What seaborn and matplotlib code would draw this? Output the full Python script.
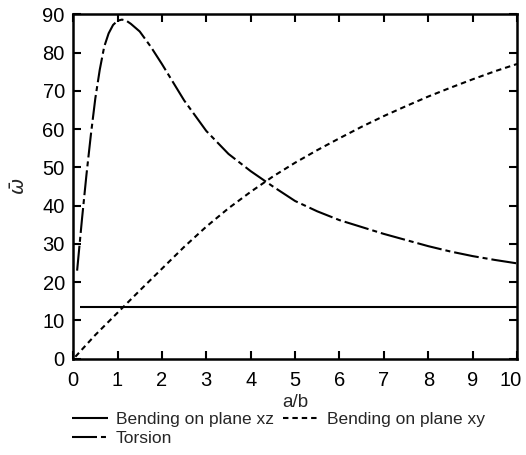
import matplotlib
matplotlib.use("Agg")
import matplotlib.pyplot as plt
import matplotlib.transforms as mtransforms
import seaborn as sns
import pandas as pd

# ---- data ----
xz_x = [0.15, 10.0]
xz_y = [13.6, 13.6]

xy_x = [0.05, 0.5, 1.0, 1.5, 2.0, 2.5, 3.0, 3.5, 4.0, 4.5, 5.0, 5.5, 6.0, 6.5, 7.0, 7.5, 8.0, 8.5, 9.0, 9.5, 10.0]
xy_y = [0.5, 6.2, 12.0, 17.8, 23.5, 29.2, 34.5, 39.3, 43.6, 47.6, 51.2, 54.5, 57.6, 60.6, 63.4, 66.0, 68.5, 70.8, 73.0, 75.1, 77.0]

tor_x = [0.09, 0.2, 0.3, 0.4, 0.5, 0.6, 0.7, 0.8, 0.9, 1.0, 1.1, 1.2, 1.3, 1.5, 1.75, 2.0, 2.5, 3.0,
         3.5, 4.0, 4.5, 5.0, 5.5, 6.0, 6.5, 7.0, 7.5, 8.0, 8.5, 9.0, 9.5, 10.0]
tor_y = [23.0, 36.5, 48.0, 58.5, 68.0, 75.5, 81.5, 85.0, 87.2, 88.3, 88.6, 88.3, 87.5, 85.5, 81.5, 77.0,
         67.5, 59.5, 53.5, 49.0, 45.0, 41.2, 38.5, 36.2, 34.4, 32.6, 31.0, 29.4, 28.0, 26.8, 25.8, 24.9]

labels = ["Bending on plane xz", "Bending on plane xy", "Torsion"]
x_ticks = list(range(0, 11))
y_ticks = list(range(0, 91, 10))

df = pd.concat([
    pd.DataFrame({"x": xz_x, "y": xz_y, "s": labels[0]}),
    pd.DataFrame({"x": xy_x, "y": xy_y, "s": labels[1]}),
    pd.DataFrame({"x": tor_x, "y": tor_y, "s": labels[2]}),
], ignore_index=True)

sns.set_style("ticks")
plt.rcParams["font.family"] = ["Liberation Sans", "DejaVu Sans"]
plt.rcParams["xtick.direction"] = "in"
plt.rcParams["ytick.direction"] = "in"

fig = plt.figure(figsize=(5.26, 4.55), dpi=100)
ax = fig.add_axes([0.139, 0.2117, 0.844, 0.757])

styles = {
    labels[0]: (0, ()),
    labels[1]: (0, (2.6, 1.9)),
    labels[2]: (0, (12.0, 1.9, 2.4, 1.9)),
}
for lab in labels:
    sns.lineplot(data=df[df["s"] == lab], x="x", y="y", ax=ax, color="black",
                 linewidth=1.5, linestyle=styles[lab], label=lab, sort=False)

ax.set_xlim(0, 10)
ax.set_ylim(0, 90)
ax.set_xticks(x_ticks)
ax.set_yticks(y_ticks)
ax.tick_params(axis="both", which="both", direction="in", length=6, width=1.5,
               top=True, right=True, labelsize=14.5, colors="black")
ax.tick_params(axis="x", pad=9)
ax.tick_params(axis="y", pad=6)
for sp in ax.spines.values():
    sp.set_linewidth(1.8)
    sp.set_color("black")
ax.set_xlabel("a/b", fontsize=13.5, labelpad=3)
ax.set_ylabel(r"$\bar{\omega}$", fontsize=14, labelpad=10)

# shift the last x tick label slightly left so it stays inside the figure
last = ax.get_xticklabels()[-1]
last.set_transform(last.get_transform() + mtransforms.ScaledTranslation(-6 / 100, 0, fig.dpi_scale_trans))

handles, labs = ax.get_legend_handles_labels()
order = [0, 2, 1]
leg = ax.legend([handles[i] for i in order], [labs[i] for i in order],
                loc="upper left", bbox_to_anchor=(-0.003, -0.155), ncol=2, frameon=False,
                fontsize=12.5, handlelength=2.1, handletextpad=0.45, columnspacing=0.5,
                labelspacing=0.2, borderaxespad=0, borderpad=0)

fig.savefig("out.png", dpi=100)
